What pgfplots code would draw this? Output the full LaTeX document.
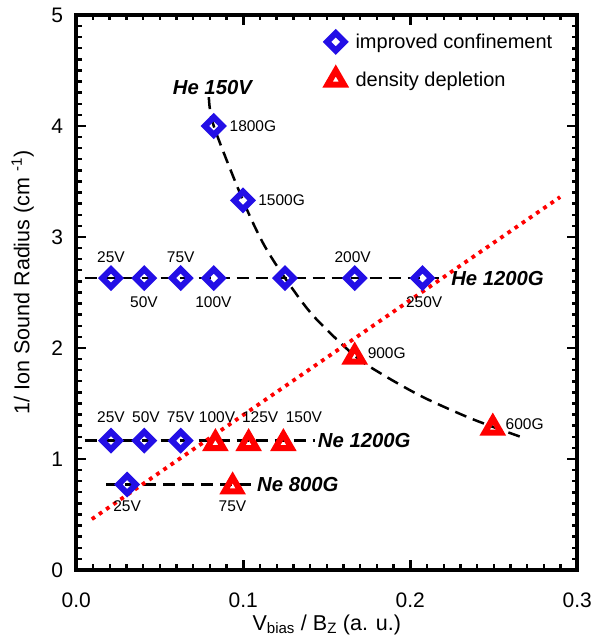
\documentclass[border=0pt]{standalone}
\usepackage{fontspec}
\setmainfont{Liberation Sans}
\usepackage{pgfplots}
\usepackage{pgfplotstable}
\pgfplotsset{compat=1.18}
\definecolor{dblue}{RGB}{35,15,230}
\definecolor{dred}{RGB}{255,0,0}
% tick positions and lengths (data units)
\pgfplotstableread{
x len
0.01 0.0495
0.02 0.0495
0.03 0.0495
0.04 0.0495
0.05 0.0495
0.06 0.0495
0.07 0.0495
0.08 0.0495
0.09 0.0495
0.10 0.09
0.11 0.0495
0.12 0.0495
0.13 0.0495
0.14 0.0495
0.15 0.0495
0.16 0.0495
0.17 0.0495
0.18 0.0495
0.19 0.0495
0.20 0.09
0.21 0.0495
0.22 0.0495
0.23 0.0495
0.24 0.0495
0.25 0.0495
0.26 0.0495
0.27 0.0495
0.28 0.0495
0.29 0.0495
}\xticktab
\pgfplotstableread{
y len
0.1 0.0033
0.2 0.0033
0.3 0.0033
0.4 0.0033
0.5 0.0033
0.6 0.0033
0.7 0.0033
0.8 0.0033
0.9 0.0033
1.0 0.006
1.1 0.0033
1.2 0.0033
1.3 0.0033
1.4 0.0033
1.5 0.0033
1.6 0.0033
1.7 0.0033
1.8 0.0033
1.9 0.0033
2.0 0.006
2.1 0.0033
2.2 0.0033
2.3 0.0033
2.4 0.0033
2.5 0.0033
2.6 0.0033
2.7 0.0033
2.8 0.0033
2.9 0.0033
3.0 0.006
3.1 0.0033
3.2 0.0033
3.3 0.0033
3.4 0.0033
3.5 0.0033
3.6 0.0033
3.7 0.0033
3.8 0.0033
3.9 0.0033
4.0 0.006
4.1 0.0033
4.2 0.0033
4.3 0.0033
4.4 0.0033
4.5 0.0033
4.6 0.0033
4.7 0.0033
4.8 0.0033
4.9 0.0033
}\yticktab
\begin{document}
\begin{tikzpicture}[
  lab/.style={font=\fontsize{15.5}{18}\selectfont, inner sep=0pt},
  blab/.style={font=\fontsize{20.3}{24}\selectfont\bfseries\itshape, inner sep=0pt},
]
% frame with bottom and left tick marks
\begin{axis}[
  scale only axis, width=501pt, height=555pt,
  xmin=0, xmax=0.3, ymin=0, ymax=5,
  xtick={0,0.1,0.2,0.3}, ytick={0,1,2,3,4,5},
  minor x tick num=9, minor y tick num=9,
  tick align=inside,
  major tick length=10pt, minor tick length=5.5pt,
  tick style={black, line width=2.4pt},
  axis line style={line width=3.8pt},
  xticklabels={}, yticklabels={},
]
\addplot[ycomb, black, line width=2.4pt, mark=none] table[x=x, y=len] {\xticktab};
\addplot[xcomb, black, line width=2.4pt, mark=none] table[x=len, y=y] {\yticktab};
\end{axis}
% top and right tick marks (mirrored axis)
\begin{axis}[
  scale only axis, width=501pt, height=555pt,
  xmin=0, xmax=0.3, ymin=0, ymax=5,
  x dir=reverse, y dir=reverse, hide axis,
]
\addplot[ycomb, black, line width=2.4pt, mark=none] table[x=x, y=len] {\xticktab};
\addplot[xcomb, black, line width=2.4pt, mark=none] table[x=len, y=y] {\yticktab};
\end{axis}
% data, labels and legend
\begin{axis}[
  name=ax,
  scale only axis, width=501pt, height=555pt,
  xmin=0, xmax=0.3, ymin=0, ymax=5,
  xtick={0,0.1,0.2,0.3}, ytick={0,1,2,3,4,5},
  tick style={draw=none},
  axis line style={line width=3.8pt},
  /pgf/number format/assume math mode=true,
  xticklabel style={/pgf/number format/fixed, /pgf/number format/fixed zerofill, /pgf/number format/precision=1},
  ticklabel style={font=\fontsize{21}{25}\selectfont, inner sep=0pt},
  xticklabel style={anchor=north, yshift=-23pt},
  yticklabel style={anchor=east, xshift=-13pt},
  xlabel={V\textsubscript{bias} / B\textsubscript{Z} (a. u.)},
  ylabel={1/ Ion Sound Radius (cm \textsuperscript{-1})},
  label style={font=\fontsize{21.5}{25}\selectfont, inner sep=0pt},
  xlabel style={at={(axis description cs:0.5,0)}, anchor=base, yshift=-60pt},
  ylabel style={at={(axis description cs:-0.107,0.518)}, anchor=center},
  legend image code/.code={\draw[#1] plot coordinates {(0pt,0pt)};},
  legend style={at={(axis cs:0.150,4.85)}, anchor=north west, draw=none, fill=none,
    font=\fontsize{20}{24}\selectfont, row sep=18pt, inner sep=0pt,
    /tikz/every odd column/.append style={column sep=9pt}},
  legend cell align=left,
]
% diamonds: improved confinement
\addplot[only marks, mark=square, mark size=6.2pt,
  mark options={rotate=45, line width=6pt, draw=dblue, solid}]
  coordinates {
  (0.0208,2.63) (0.0407,2.63) (0.0625,2.63) (0.0823,2.63) (0.125,2.63) (0.1667,2.63) (0.2073,2.63)
  (0.0823,4.0) (0.0998,3.33)
  (0.0208,1.165) (0.0407,1.165) (0.0625,1.165)
  (0.0304,0.77)
  };
\addlegendentry{improved confinement}
% triangles: density depletion
\addplot[only marks, mark=triangle, mark size=9.4pt,
  mark options={line width=6pt, draw=dred, solid}]
  coordinates {
  (0.0833,1.14) (0.1032,1.14) (0.124,1.14)
  (0.0936,0.75)
  (0.1667,1.92) (0.2494,1.28)
  };
\addlegendentry{density depletion}
% dashed guide lines
\addplot[forget plot, black, line width=2.5pt, dash pattern=on 12pt off 7pt, smooth, tension=0.5]
  coordinates {(0.0794,4.26) (0.0823,4.0) (0.0998,3.33) (0.112,2.94) (0.125,2.63) (0.1419,2.29)
  (0.1667,1.93) (0.1835,1.76) (0.2073,1.56) (0.2331,1.385) (0.2494,1.29) (0.2679,1.19)};
\addplot[forget plot, black, line width=2.5pt, dash pattern=on 12pt off 7pt]
  coordinates {(0.005,2.63) (0.2202,2.63)};
\addplot[forget plot, black, line width=2.5pt, dash pattern=on 12pt off 7pt]
  coordinates {(0.005,1.165) (0.1429,1.165)};
\addplot[forget plot, black, line width=2.5pt, dash pattern=on 12pt off 7pt]
  coordinates {(0.0179,0.77) (0.106,0.77)};
% red dotted line
\addplot[forget plot, dred, line width=3.8pt, dash pattern=on 3.8pt off 4.9pt]
  coordinates {(0.0093,0.458) (0.2897,3.36)};
% annotations
\node[blab] at (axis cs:0.0815,4.345) {He 150V};
\node[lab, anchor=west] at (axis cs:0.0917,3.995) {1800G};
\node[lab, anchor=west] at (axis cs:0.1089,3.33) {1500G};
\node[lab] at (axis cs:0.0208,2.82) {25V};
\node[lab] at (axis cs:0.0405,2.415) {50V};
\node[lab] at (axis cs:0.0625,2.82) {75V};
\node[lab] at (axis cs:0.0821,2.415) {100V};
\node[lab] at (axis cs:0.1655,2.82) {200V};
\node[lab] at (axis cs:0.2083,2.415) {250V};
\node[blab, anchor=west] at (axis cs:0.2244,2.63) {He 1200G};
\node[lab, anchor=west] at (axis cs:0.1744,1.957) {900G};
\node[lab, anchor=west] at (axis cs:0.257,1.31) {600G};
\node[lab] at (axis cs:0.0208,1.373) {25V};
\node[lab] at (axis cs:0.0417,1.373) {50V};
\node[lab] at (axis cs:0.0625,1.373) {75V};
\node[lab] at (axis cs:0.0843,1.373) {100V};
\node[lab] at (axis cs:0.1101,1.373) {125V};
\node[lab] at (axis cs:0.1363,1.373) {150V};
\node[blab, anchor=west] at (axis cs:0.1446,1.165) {Ne 1200G};
\node[lab] at (axis cs:0.0304,0.575) {25V};
\node[lab] at (axis cs:0.0935,0.575) {75V};
\node[blab, anchor=west] at (axis cs:0.1082,0.77) {Ne 800G};
\end{axis}
\path (ax.south west) ++(-76.3pt,-71pt) coordinate (bl);
\path (ax.north east) ++(13.5pt,15pt) coordinate (tr);
\path (bl) rectangle (tr);
\end{tikzpicture}
\end{document}
